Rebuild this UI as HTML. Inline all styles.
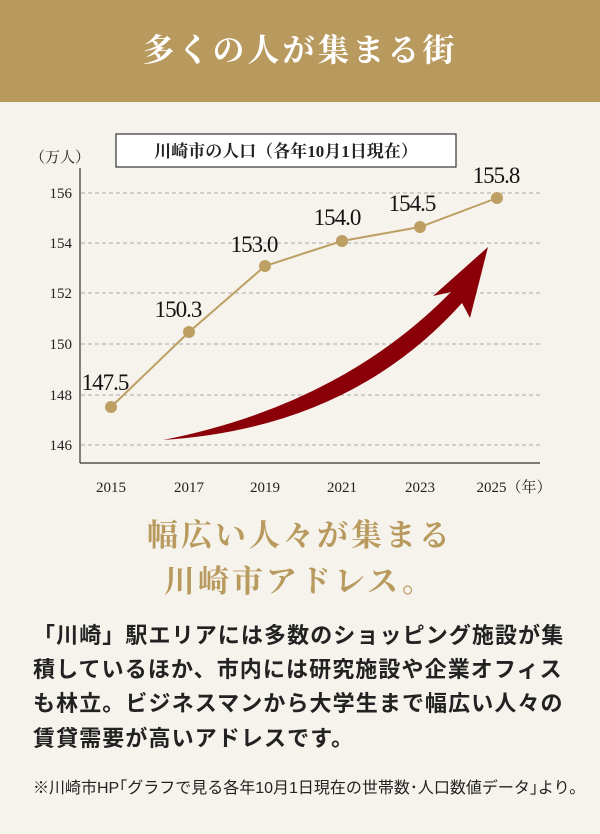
<!DOCTYPE html>
<html><head><meta charset="utf-8"><style>
body{margin:0;width:600px;height:834px;background:#f6f3ec;overflow:hidden;font-family:"Liberation Serif","Noto Serif CJK SC",serif;position:relative}
.hd{position:absolute;left:0;top:0;width:600px;height:102px;background:#b89a5e;color:#fff;font-size:32px;font-weight:bold;text-align:center;line-height:100px;letter-spacing:3px}
.t{position:absolute;white-space:nowrap}
.h2{color:#b89a5e;font-weight:bold;font-size:31px;left:0;width:600px;text-align:center;letter-spacing:3px}
.bd{left:33px;font-family:"Liberation Sans","Noto Sans CJK JP",sans-serif;font-weight:bold;font-size:22px;color:#222;letter-spacing:1.1px}
</style></head><body>
<div class="hd">多くの人が集まる街</div>
<svg class="t" style="left:0;top:0" width="600" height="510" font-family="Liberation Serif, Noto Serif CJK SC, serif">
<g stroke="#aaa" stroke-dasharray="4,3" stroke-width="1">
<line x1="81" x2="540" y1="193" y2="193"/><line x1="81" x2="540" y1="243" y2="243"/><line x1="81" x2="540" y1="293" y2="293"/><line x1="81" x2="540" y1="344" y2="344"/><line x1="81" x2="540" y1="395" y2="395"/><line x1="81" x2="540" y1="445" y2="445"/>
</g>
<line x1="80" y1="168" x2="80" y2="463" stroke="#333" stroke-width="1.2"/>
<line x1="80" y1="463" x2="540" y2="463" stroke="#333" stroke-width="1.2"/>
<g font-size="15" fill="#222" text-anchor="end">
<text x="72" y="198">156</text><text x="72" y="248">154</text><text x="72" y="298">152</text><text x="72" y="349">150</text><text x="72" y="400">148</text><text x="72" y="450">146</text></g>
<g font-size="15" fill="#222" text-anchor="middle">
<text x="111" y="492">2015</text><text x="189" y="492">2017</text><text x="265" y="492">2019</text><text x="342" y="492">2021</text><text x="420" y="492">2023</text><text x="514" y="492">2025（年）</text></g>
<text x="30" y="162" font-size="15" fill="#222">（万人）</text>
<rect x="116" y="134" width="340" height="33" fill="#fff" stroke="#333" stroke-width="1.2"/>
<text x="286" y="157" font-size="17" font-weight="bold" fill="#222" text-anchor="middle">川崎市の人口（各年10月1日現在）</text>
<path d="M163,440 Q350,428 462,303 L470,318 L488,247 L433,296 L451,292 Q340,405 163,440Z" fill="#8b0008"/>
<polyline points="111,407 189,332 265,266 342,241 420,227 497,198" fill="none" stroke="#bd9f63" stroke-width="2"/>
<g fill="#bd9f63"><circle cx="111" cy="407" r="6"/><circle cx="189" cy="332" r="6"/><circle cx="265" cy="266" r="6"/><circle cx="342" cy="241" r="6"/><circle cx="420" cy="227" r="6"/><circle cx="497" cy="198" r="6"/></g>
<g font-size="23" fill="#111" text-anchor="middle" letter-spacing="-1">
<text x="105" y="390">147.5</text><text x="178" y="317">150.3</text><text x="254" y="252">153.0</text><text x="337" y="225">154.0</text><text x="412" y="211">154.5</text><text x="496" y="183">155.8</text></g>
</svg>
<div class="t h2" style="top:510px">幅広い人々が集まる</div>
<div class="t h2" style="top:556px">川崎市アドレス。</div>
<div class="t bd" style="top:618px">「川崎」駅エリアには多数のショッピング施設が集</div>
<div class="t bd" style="top:652px">積しているほか、市内には研究施設や企業オフィス</div>
<div class="t bd" style="top:686px">も林立。ビジネスマンから大学生まで幅広い人々の</div>
<div class="t bd" style="top:721px">賃貸需要が高いアドレスです。</div>
<div class="t" style="left:33px;top:774px;font-size:16px;color:#222;font-family:'Liberation Sans','Noto Sans CJK JP',sans-serif">※川崎市HP｢グラフで見る各年10月1日現在の世帯数･人口数値データ｣より。</div>
</body></html>
